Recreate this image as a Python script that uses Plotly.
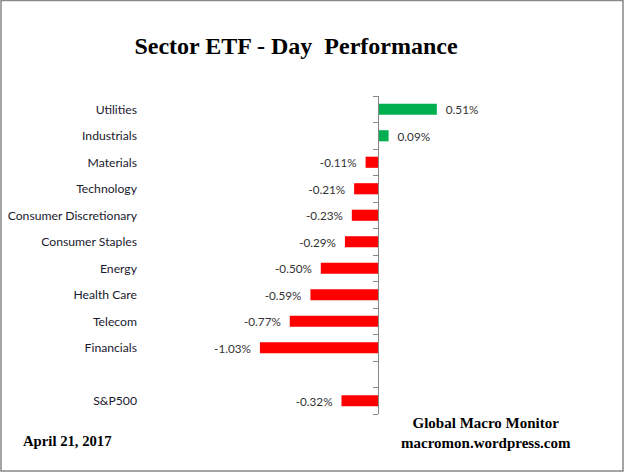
import plotly.graph_objects as go

categories = ["Utilities", "Industrials", "Materials", "Technology",
              "Consumer Discretionary", "Consumer Staples", "Energy",
              "Health Care", "Telecom", "Financials", "", "S&P500"]
values = [0.51, 0.09, -0.11, -0.21, -0.23, -0.29, -0.50, -0.59, -0.77, -1.03, None, -0.32]

W, H = 625, 473
L, R, T, B = 145, 25, 96, 59
xmin, xmax = -2.03, 1.93

ypos = list(range(len(categories)))
colors = ["#00B050" if (v is not None and v > 0) else "#FF0000" for v in values]
texts = []
for v in values:
    if v is None:
        texts.append("")
    elif v > 0:
        texts.append("  " + f"{v:.2f}%")
    else:
        texts.append(f"{v:.2f}%" + "  ")

fig = go.Figure()
fig.add_trace(go.Bar(
    x=values, y=ypos, orientation="h", width=0.42,
    marker=dict(color=colors, line=dict(width=0)),
    text=texts, textposition="outside", cliponaxis=False, constraintext="none",
    textfont=dict(family="Lato, Open Sans, sans-serif", size=11.7, color="#333333"),
    hoverinfo="skip",
))
# invisible trace for the zero-axis ticks
fig.add_trace(go.Scatter(x=[0], y=[0], yaxis="y2", mode="markers",
                         marker=dict(opacity=0), hoverinfo="skip", showlegend=False))

pw = W - L - R
ph = H - T - B
zero_frac = (0 - xmin) / (xmax - xmin)

fig.update_layout(
    width=W, height=H,
    margin=dict(l=L, r=R, t=T, b=B, autoexpand=False),
    plot_bgcolor="white", paper_bgcolor="white",
    showlegend=False,
    title=dict(text="<b>Sector ETF - Day  Performance</b>",
               x=296 / W, xanchor="center", y=1 - 46 / H, yanchor="middle",
               font=dict(family="Liberation Serif, serif", size=24, color="#000000")),
    xaxis=dict(range=[xmin, xmax], visible=False, fixedrange=True, automargin=False),
    yaxis=dict(range=[len(categories) - 0.5, -0.5], tickvals=ypos, ticktext=categories,
               showline=False, showgrid=False, zeroline=False, ticks="",
               ticklabelstandoff=7, automargin=False,
               tickfont=dict(family="Lato, Open Sans, sans-serif", size=12.2, color="#1a1a2e")),
    yaxis2=dict(overlaying="y", anchor="free", position=zero_frac, side="left",
                range=[len(categories) - 0.5, -0.5], automargin=False,
                tickvals=[i - 0.5 for i in range(len(categories) + 1)],
                showticklabels=False, ticks="outside", ticklen=5, tickcolor="#868686",
                showline=True, linecolor="#868686", linewidth=1,
                showgrid=False, zeroline=False),
    bargap=0.5,
)

# border
fig.add_shape(type="rect", xref="paper", yref="paper",
              x0=(-L + 1) / pw, x1=(W - L - 2) / pw,
              y0=-(B - 2) / ph, y1=(ph + T - 0.5) / ph,
              line=dict(color="#888888", width=1.5), fillcolor="rgba(0,0,0,0)")

fig.add_annotation(text="<b>Global Macro Monitor</b><br><b>macromon.wordpress.com</b>",
                   xref="paper", yref="paper", x=(486 - L) / pw, y=-(433 - (H - B)) / ph,
                   xanchor="center", yanchor="middle", showarrow=False,
                   font=dict(family="Liberation Serif, serif", size=15, color="#000"))
fig.add_annotation(text="<b>April 21, 2017</b>",
                   xref="paper", yref="paper", x=(21 - L) / pw, y=-(441 - (H - B)) / ph,
                   xanchor="left", yanchor="middle", showarrow=False,
                   font=dict(family="Liberation Serif, serif", size=14.7, color="#000"))

fig.write_html("out.html", config={"displayModeBar": False},
               post_script="document.body.style.margin='0';document.body.style.padding='0';")
